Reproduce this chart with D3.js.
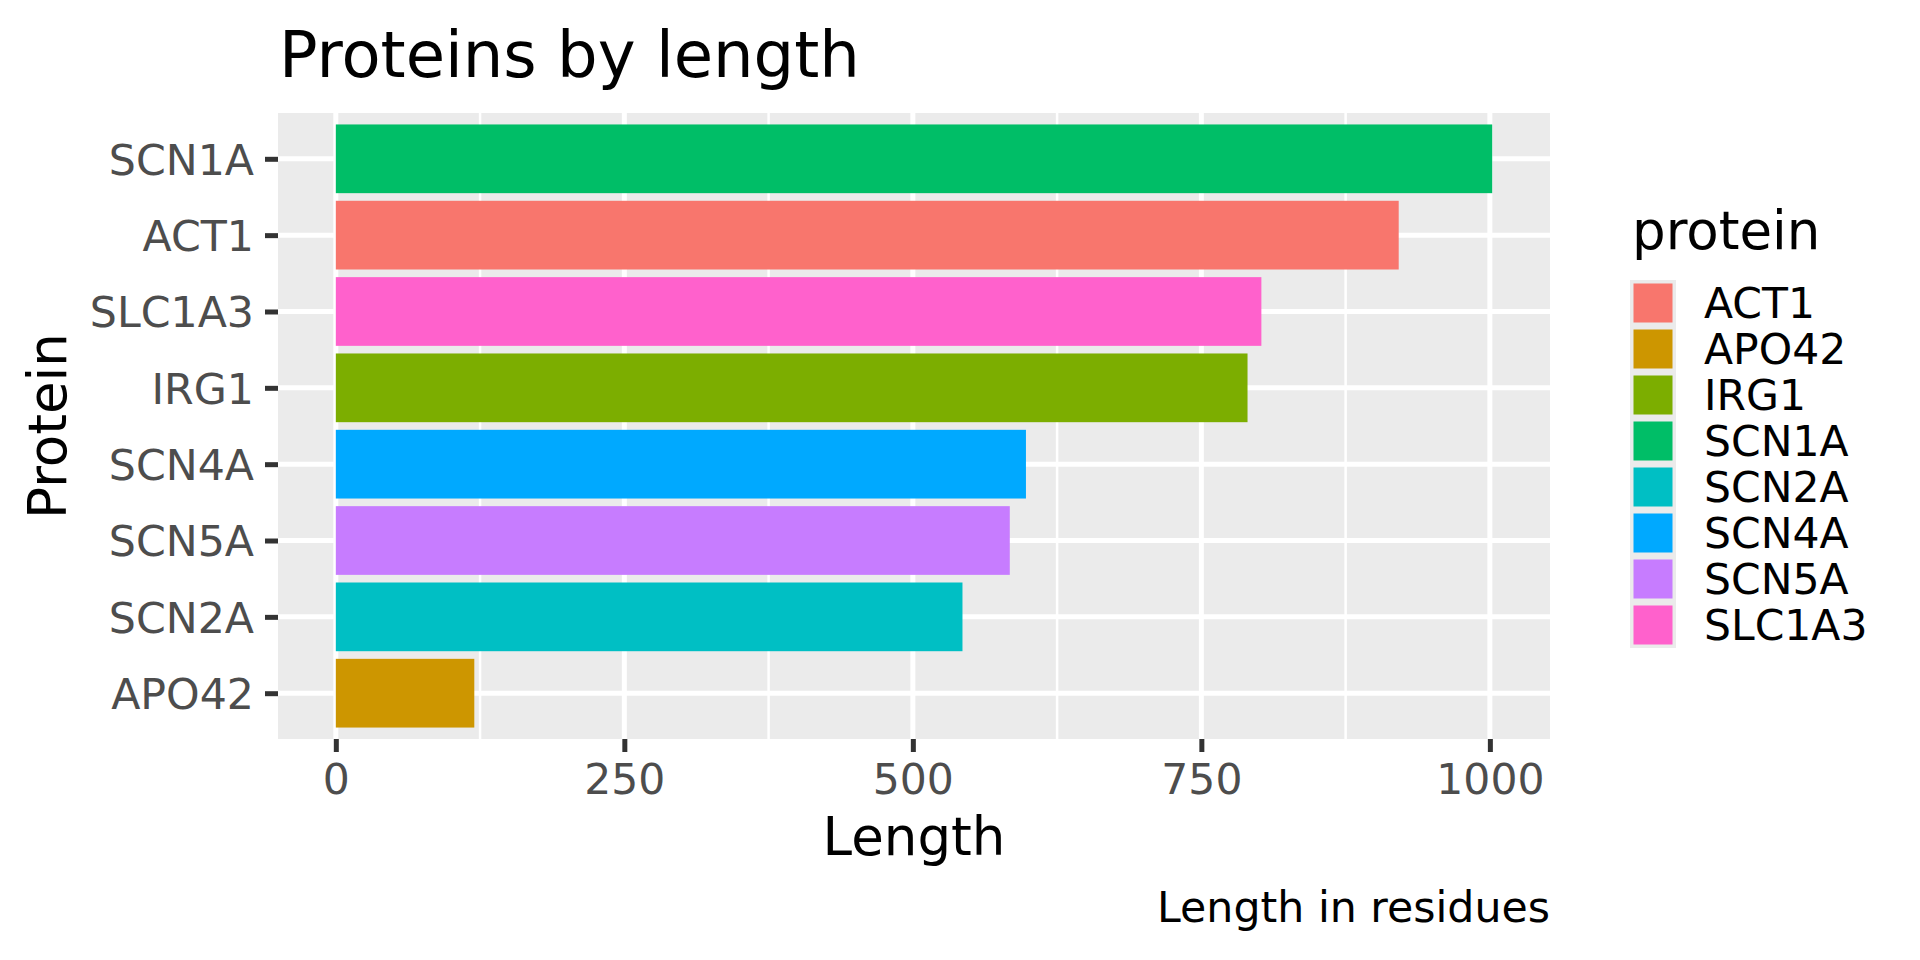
<!DOCTYPE html>
<html>
<head>
<meta charset="utf-8">
<script src="https://cdn.jsdelivr.net/npm/d3@7"></script>
<style>
  html, body { margin: 0; padding: 0; background: #ffffff; }
  svg { display: block; font-family: "DejaVu Sans", sans-serif; }
</style>
</head>
<body>
<svg id="chart" width="1920" height="960"></svg>
<script>
// ---- data ----
const proteins = ["ACT1", "APO42", "IRG1", "SCN1A", "SCN2A", "SCN4A", "SCN5A", "SLC1A3"];
const lengths  = [921, 120, 790, 1002, 543, 598, 584, 802];
const colors   = ["#F8766D", "#CD9600", "#7CAE00", "#00BE67", "#00BFC4", "#00A9FF", "#C77CFF", "#FF61CC"];
const xTicks = [0, 250, 500, 750, 1000];
const xMinorTicks = [125, 375, 625, 875];
const titleText = "Proteins by length";
const xTitle = "Length";
const yTitle = "Protein";
const legendTitle = "protein";
const captionText = "Length in residues";

// ---- layout ----
const panel = { left: 278, right: 1550, top: 113, bottom: 739 };
const svg = d3.select("#chart");

const data = proteins.map((p, i) => ({ protein: p, length: lengths[i], color: colors[i] }));
const order = data.slice().sort((a, b) => b.length - a.length).map(d => d.protein);

const maxV = d3.max(lengths);
const x = d3.scaleLinear().domain([-0.05 * maxV, 1.05 * maxV]).range([panel.left, panel.right]);
const y = d3.scalePoint().domain(order).range([panel.top, panel.bottom]).padding(0.6);
const color = d3.scaleOrdinal().domain(proteins).range(colors);
const barH = y.step() * 0.9;

// panel background
svg.append("rect")
  .attr("x", panel.left).attr("y", panel.top)
  .attr("width", panel.right - panel.left).attr("height", panel.bottom - panel.top)
  .attr("fill", "#EBEBEB");

// grid
const grid = svg.append("g");
grid.selectAll(".minor").data(xMinorTicks).enter().append("line")
  .attr("x1", d => x(d)).attr("x2", d => x(d))
  .attr("y1", panel.top).attr("y2", panel.bottom)
  .attr("stroke", "#ffffff").attr("stroke-width", 2.5);
grid.selectAll(".majorx").data(xTicks).enter().append("line")
  .attr("x1", d => x(d)).attr("x2", d => x(d))
  .attr("y1", panel.top).attr("y2", panel.bottom)
  .attr("stroke", "#ffffff").attr("stroke-width", 5);
grid.selectAll(".majory").data(order).enter().append("line")
  .attr("x1", panel.left).attr("x2", panel.right)
  .attr("y1", d => y(d)).attr("y2", d => y(d))
  .attr("stroke", "#ffffff").attr("stroke-width", 5);

// bars
svg.append("g").selectAll("rect").data(data).enter().append("rect")
  .attr("x", x(0))
  .attr("y", d => y(d.protein) - barH / 2)
  .attr("width", d => x(d.length) - x(0))
  .attr("height", barH)
  .attr("fill", d => color(d.protein));

// axes
const xAxis = d3.axisBottom(x).tickValues(xTicks).tickSize(13).tickPadding(10).tickFormat(d3.format("d"));
const gx = svg.append("g").attr("transform", `translate(0,${panel.bottom})`).call(xAxis);
gx.select(".domain").remove();
gx.selectAll(".tick line").attr("stroke", "#333333").attr("stroke-width", 5);
gx.selectAll(".tick text").attr("fill", "#4D4D4D").attr("font-size", 42.5)
  .attr("font-family", "DejaVu Sans").attr("dy", "0.76em");

const yAxis = d3.axisLeft(y).tickSize(13).tickPadding(11);
const gy = svg.append("g").attr("transform", `translate(${panel.left},0)`).call(yAxis);
gy.select(".domain").remove();
gy.selectAll(".tick line").attr("stroke", "#333333").attr("stroke-width", 5);
gy.selectAll(".tick text").attr("fill", "#4D4D4D").attr("font-size", 42.7)
  .attr("font-family", "DejaVu Sans").attr("dy", "0.36em");

// titles
svg.append("text").attr("x", 279).attr("y", 77)
  .attr("font-size", 64).attr("fill", "#000").text(titleText);
svg.append("text").attr("x", (panel.left + panel.right) / 2).attr("y", 855)
  .attr("text-anchor", "middle").attr("font-size", 53).attr("fill", "#000").text(xTitle);
svg.append("text")
  .attr("transform", `translate(66,${(panel.top + panel.bottom) / 2}) rotate(-90)`)
  .attr("text-anchor", "middle").attr("font-size", 53).attr("fill", "#000").text(yTitle);
svg.append("text").attr("x", panel.right).attr("y", 922)
  .attr("text-anchor", "end").attr("font-size", 42.7).attr("fill", "#000").text(captionText);

// legend
const lg = svg.append("g");
const keyX = 1630, keyY = 280, keyS = 46, inset = 3.5;
lg.append("text").attr("x", 1632).attr("y", 249)
  .attr("font-size", 53).attr("fill", "#000").text(legendTitle);
const items = lg.selectAll(".item").data(proteins).enter().append("g")
  .attr("transform", (d, i) => `translate(${keyX},${keyY + i * keyS})`);
items.append("rect").attr("width", keyS).attr("height", keyS).attr("fill", "#EBEBEB");
items.append("rect").attr("x", inset).attr("y", inset)
  .attr("width", keyS - 2 * inset).attr("height", keyS - 2 * inset)
  .attr("fill", d => color(d));
items.append("text").attr("x", 74).attr("y", keyS / 2).attr("dy", "0.36em")
  .attr("font-size", 42.5).attr("fill", "#000").text(d => d);
</script>
</body>
</html>
